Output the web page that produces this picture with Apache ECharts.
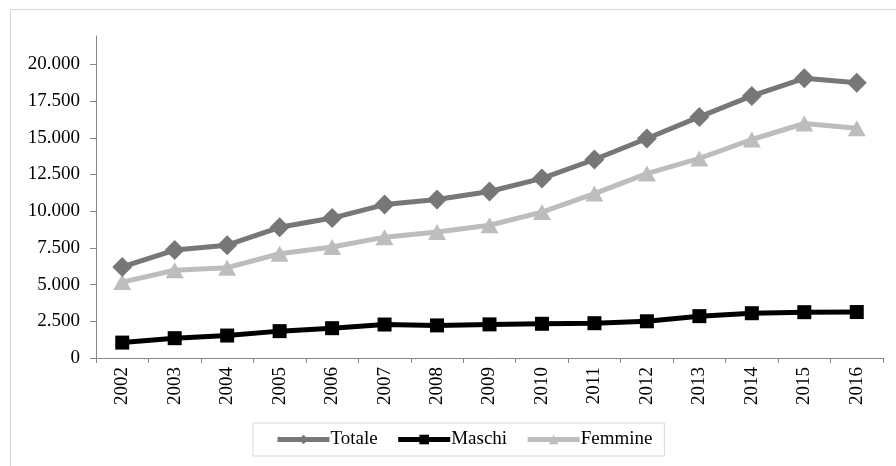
<!DOCTYPE html>
<html>
<head>
<meta charset="utf-8">
<script src="https://cdn.jsdelivr.net/npm/echarts@6/dist/echarts.min.js"></script>
<style>html,body{margin:0;padding:0;background:#fff}#c{width:896px;height:466px}</style>
</head>
<body>
<div id="c"></div>
<script>
var years = ['2002','2003','2004','2005','2006','2007','2008','2009','2010','2011','2012','2013','2014','2015','2016'];
var totale = [6200, 7350, 7680, 8900, 9530, 10450, 10800, 11340, 12230, 13520, 14950, 16420, 17850, 19050, 18750];
var maschi = [1050, 1350, 1530, 1830, 2030, 2280, 2220, 2290, 2330, 2370, 2500, 2850, 3050, 3120, 3130];
var femmine = [5170, 5980, 6150, 7100, 7560, 8230, 8580, 9040, 9940, 11200, 12560, 13590, 14880, 15970, 15640];
var yTicks = [0, 2500, 5000, 7500, 10000, 12500, 15000, 17500, 20000];

function fmt(v){ return String(v).replace(/\B(?=(\d{3})+(?!\d))/g, '.'); }

var font = 'Liberation Serif';
var chart = echarts.init(document.getElementById('c'));
chart.setOption({
  animation: false,
  backgroundColor: '#fff',
  graphic: [{
    type: 'rect', shape: {x: 10.5, y: 9.5, width: 900, height: 470},
    style: {fill: 'none', stroke: '#d9d9d9', lineWidth: 1}, silent: true
  }],
  grid: {left: 96, right: 13, top: 36, bottom: 108},
  legend: {
    left: 253, top: 423,
    padding: [7, 12, 7, 22],
    borderColor: '#d9d9d9', borderWidth: 1,
    itemWidth: 52, itemHeight: 12, itemGap: 18,
    lineStyle: {width: 5},
    textStyle: {fontFamily: font, fontSize: 19, color: '#000', padding: [0, 0, 0, -4]},
    data: ['Totale', 'Maschi', 'Femmine']
  },
  xAxis: {
    type: 'category', data: years, boundaryGap: true,
    axisLine: {lineStyle: {color: '#868686', width: 1}},
    axisTick: {show: true, length: 5, lineStyle: {color: '#868686'}},
    axisLabel: {rotate: 90, margin: 9, fontFamily: font, fontSize: 19, color: '#000'},
    splitLine: {show: false}
  },
  yAxis: {
    type: 'value', min: 0, max: 21930,
    axisLine: {show: true, lineStyle: {color: '#868686', width: 1}},
    axisTick: {show: true, length: 6, lineStyle: {color: '#868686'}, customValues: yTicks},
    axisLabel: {margin: 16, fontFamily: font, fontSize: 19, color: '#000', customValues: yTicks, formatter: fmt},
    splitLine: {show: false}
  },
  series: [
    {name: 'Totale', type: 'line', data: totale, symbol: 'diamond', symbolSize: 20,
     lineStyle: {color: '#777777', width: 5}, itemStyle: {color: '#777777'}, z: 3},
    {name: 'Maschi', type: 'line', data: maschi, symbol: 'rect', symbolSize: 14,
     lineStyle: {color: '#000000', width: 5}, itemStyle: {color: '#000000'}, z: 4},
    {name: 'Femmine', type: 'line', data: femmine, symbol: 'triangle', symbolSize: [18, 16],
     lineStyle: {color: '#bdbdbd', width: 5}, itemStyle: {color: '#bdbdbd'}, z: 2}
  ]
});
</script>
</body>
</html>
